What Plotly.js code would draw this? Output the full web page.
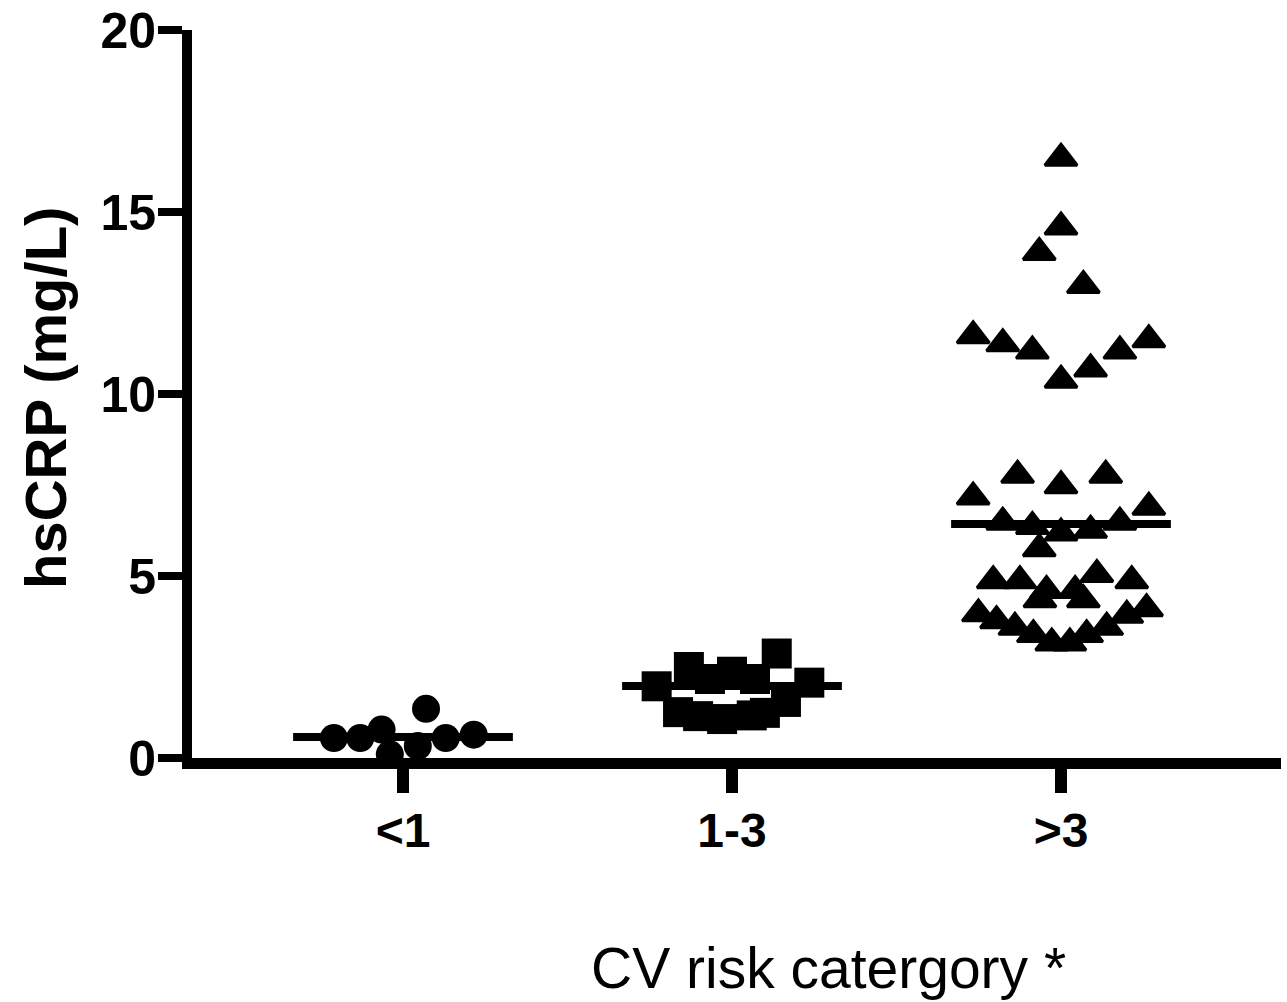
<!DOCTYPE html>
<html>
<head>
<meta charset="utf-8">
<script src="https://cdn.plot.ly/plotly-3.0.1.min.js"></script>
<style>html,body{margin:0;padding:0;background:#fff;}#chart{width:1287px;height:1002px;}</style>
</head>
<body>
<div id="chart"></div>
<script>
// Categories and tick labels
const categories = [1, 2, 3];
const tickLabels = ['<1', '1-3', '>3'];

// Group "<1" (circles): horizontal spread offsets and hsCRP values (mg/L)
const lowOffsets = [-0.21, -0.13, -0.065, -0.04, 0.045, 0.07, 0.13, 0.215];
const lowValues  = [0.55, 0.55, 0.78, 0.10, 0.33, 1.35, 0.55, 0.64];

// Group "1-3" (squares)
const midOffsets = [-0.229, -0.131, -0.067, 0.0, 0.07, 0.136, 0.235, -0.164, -0.103, -0.03, 0.06, 0.10, 0.164];
const midValues  = [1.97, 2.50, 2.17, 2.37, 2.17, 2.87, 2.07, 1.26, 1.15, 1.07, 1.17, 1.24, 1.54];

// Group ">3" (triangles)
const highOffsets = [0.0, 0.0, -0.066, 0.068, -0.267, -0.177, -0.087, 0.0, 0.09, 0.179, 0.267,
  -0.267, -0.132, 0.0, 0.136, 0.267,
  -0.177, -0.087, 0.0, 0.09, 0.179, -0.066,
  -0.206, -0.125, 0.109, 0.215, -0.044, 0.043, -0.064, 0.068,
  -0.251, 0.26, -0.196, 0.2, -0.14, 0.139, -0.084, 0.078, -0.028, 0.027];
const highValues = [16.48, 14.59, 13.89, 12.98, 11.6, 11.38, 11.18, 10.38, 10.69, 11.18, 11.49,
  7.17, 7.77, 7.48, 7.77, 6.89,
  6.48, 6.36, 6.18, 6.26, 6.48, 5.75,
  4.87, 4.87, 5.04, 4.87, 4.6, 4.6, 4.35, 4.35,
  3.96, 4.1, 3.77, 3.92, 3.59, 3.59, 3.39, 3.39, 3.16, 3.16];

// Median values per group
const medians = [0.58, 1.98, 6.43];
const medianHalfWidth = 0.334;

const xTitle = 'CV risk catergory *';
const yTitle = 'hsCRP (mg/L)';

const FONT = 'Liberation Sans, Arial, Helvetica, sans-serif';

const traces = [];
categories.forEach((c, i) => {
  traces.push({
    type: 'scatter', mode: 'lines',
    x: [c - medianHalfWidth, c + medianHalfWidth],
    y: [medians[i], medians[i]],
    line: {color: '#000', width: 8},
    hoverinfo: 'skip', showlegend: false, cliponaxis: false
  });
});

traces.push({
  type: 'scatter', mode: 'markers',
  x: lowOffsets.map(o => categories[0] + o), y: lowValues,
  marker: {symbol: 'circle', size: 28, color: '#000'},
  showlegend: false, cliponaxis: false
});
traces.push({
  type: 'scatter', mode: 'markers',
  x: midOffsets.map(o => categories[1] + o), y: midValues,
  marker: {symbol: 'square', size: 30, color: '#000'},
  showlegend: false, cliponaxis: false
});
traces.push({
  type: 'scatter', mode: 'markers',
  x: highOffsets.map(o => categories[2] + o), y: highValues,
  marker: {symbol: 'triangle-up', size: 28, color: '#000', line: {color: '#000', width: 3}},
  showlegend: false, cliponaxis: false
});

const layout = {
  width: 1287, height: 1002,
  paper_bgcolor: '#fff', plot_bgcolor: '#fff',
  margin: {l: 192, r: 6, t: 30, b: 244, autoexpand: false},
  font: {family: FONT, color: '#000'},
  xaxis: {
    range: [0.3587, 3.6687],
    tickvals: categories, ticktext: tickLabels,
    showgrid: false, zeroline: false,
    showline: true, linecolor: '#000', linewidth: 11,
    ticks: 'outside', ticklen: 24, tickwidth: 12, tickcolor: '#000',
    tickfont: {family: FONT, size: 48, weight: 'bold', color: '#000'},
    ticklabelstandoff: -4,
    automargin: false, fixedrange: true
  },
  yaxis: {
    range: [0, 20],
    tickvals: [0, 5, 10, 15, 20],
    showgrid: false, zeroline: false,
    showline: true, linecolor: '#000', linewidth: 10,
    ticks: 'outside', ticklen: 24, tickwidth: 8, tickcolor: '#000',
    tickfont: {family: FONT, size: 50, weight: 'bold', color: '#000'},
    ticklabelstandoff: -8,
    automargin: false, fixedrange: true
  },
  annotations: [
    {text: xTitle, xref: 'paper', yref: 'paper', x: (828 - 192) / 1089, y: -(968 - 758) / 728,
     xanchor: 'center', yanchor: 'middle', showarrow: false,
     font: {family: FONT, size: 57, color: '#000'}},
    {text: yTitle, xref: 'paper', yref: 'paper', x: -(192 - 45) / 1089, y: (758 - 398) / 728,
     xanchor: 'center', yanchor: 'middle', showarrow: false, textangle: -90,
     font: {family: FONT, size: 58, weight: 'bold', color: '#000'}}
  ],
  showlegend: false
};

Plotly.newPlot('chart', traces, layout, {displayModeBar: false, staticPlot: true});
</script>
</body>
</html>
